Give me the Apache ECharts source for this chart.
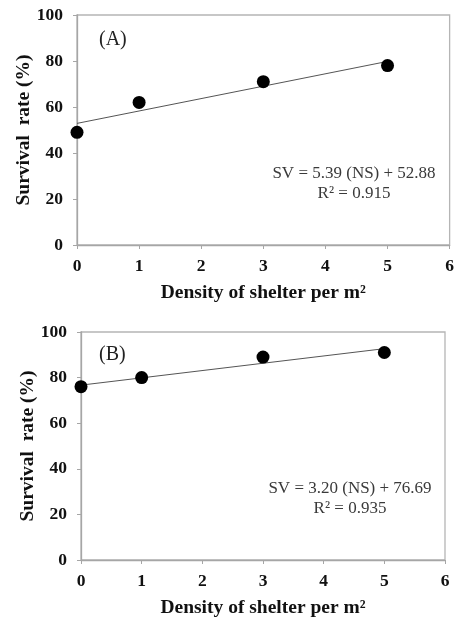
<!DOCTYPE html>
<html><head><meta charset="utf-8">
<script src="https://cdn.jsdelivr.net/npm/echarts@6/dist/echarts.min.js"></script>
<style>html,body{margin:0;padding:0;background:#fff}#c{width:457px;height:619px}</style>
</head><body><div id="c"></div>
<script>
const densities = [0, 1, 3, 5];
const survivalA = [49, 62, 71, 78];
const survivalB = [76, 80, 89, 91];
const fitX = [0, 5];
const fitA = [52.88, 79.83];
const fitB = [76.69, 92.69];
const xTicks = [0, 1, 2, 3, 4, 5, 6];
const yTicks = [0, 20, 40, 60, 80, 100];
const eqA = ['SV = 5.39 (NS) + 52.88', 'R² = 0.915'];
const eqB = ['SV = 3.20 (NS) + 76.69', 'R² = 0.935'];
const labelA = '(A)', labelB = '(B)';
const xName = 'Density of shelter per m²';
const yName = 'Survival  rate (%)';

const serif = '"Liberation Serif", "Times New Roman", serif';
const axisGray = '#a6a6a6';

function xAxis(gi) {
  return {
    gridIndex: gi, type: 'value', min: xTicks[0], max: xTicks[xTicks.length - 1], interval: 1,
    name: xName, nameLocation: 'middle', nameGap: 38, nameMoveOverlap: false,
    nameTextStyle: { fontFamily: serif, fontWeight: 'bold', fontSize: 19.5, color: '#111' },
    axisLine: { show: true, lineStyle: { color: axisGray, width: 1.3 } },
    axisTick: { show: true, length: 4, lineStyle: { color: axisGray } },
    axisLabel: { fontFamily: serif, fontWeight: 'bold', fontSize: 17.5, color: '#111', margin: 12 },
    splitLine: { show: false }
  };
}
function yAxis(gi) {
  return {
    gridIndex: gi, type: 'value', min: yTicks[0], max: yTicks[yTicks.length - 1], interval: 20,
    name: yName, nameLocation: 'middle', nameGap: 43, nameRotate: 90, nameMoveOverlap: false,
    nameTextStyle: { fontFamily: serif, fontWeight: 'bold', fontSize: 19.5, color: '#111' },
    axisLine: { show: true, lineStyle: { color: axisGray, width: 1.3 } },
    axisTick: { show: true, length: 4, lineStyle: { color: axisGray } },
    axisLabel: { fontFamily: serif, fontWeight: 'bold', fontSize: 17.5, color: '#111', margin: 14 },
    splitLine: { show: false }
  };
}
function pts(xs, ys) { return xs.map((x, i) => [x, ys[i]]); }

const chart = echarts.init(document.getElementById('c'), null, { renderer: 'canvas' });
chart.setOption({
  animation: false,
  backgroundColor: '#fff',
  grid: [
    { left: 77, right: 6, top: 15, height: 230, show: true, borderColor: '#b5b5b5', borderWidth: 1.3 },
    { left: 81, right: 12, top: 332, height: 229, show: true, borderColor: '#b5b5b5', borderWidth: 1.3 }
  ],
  xAxis: [xAxis(0), xAxis(1)],
  yAxis: [yAxis(0), yAxis(1)],
  title: [
    { text: labelA, left: 99, top: 30, padding: 0, textStyle: { fontFamily: serif, fontWeight: 'normal', fontSize: 20, color: '#222' } },
    { text: labelB, left: 99, top: 345, padding: 0, textStyle: { fontFamily: serif, fontWeight: 'normal', fontSize: 20, color: '#222' } },
    { text: eqA.join('\n'), left: 354, top: 164, padding: 0, textAlign: 'center',
      textStyle: { fontFamily: serif, fontWeight: 'normal', fontSize: 17, lineHeight: 20, color: '#3a3a3a', align: 'center' } },
    { text: eqB.join('\n'), left: 350, top: 479, padding: 0, textAlign: 'center',
      textStyle: { fontFamily: serif, fontWeight: 'normal', fontSize: 17, lineHeight: 20, color: '#3a3a3a', align: 'center' } }
  ],
  series: [
    { type: 'line', xAxisIndex: 0, yAxisIndex: 0, data: pts(fitX, fitA), symbol: 'none',
      lineStyle: { color: '#555', width: 1 }, z: 2 },
    { type: 'scatter', xAxisIndex: 0, yAxisIndex: 0, data: pts(densities, survivalA), symbolSize: 13,
      itemStyle: { color: '#000', opacity: 1 }, z: 3 },
    { type: 'line', xAxisIndex: 1, yAxisIndex: 1, data: pts(fitX, fitB), symbol: 'none',
      lineStyle: { color: '#555', width: 1 }, z: 2 },
    { type: 'scatter', xAxisIndex: 1, yAxisIndex: 1, data: pts(densities, survivalB), symbolSize: 13,
      itemStyle: { color: '#000', opacity: 1 }, z: 3 }
  ]
});
</script></body></html>
